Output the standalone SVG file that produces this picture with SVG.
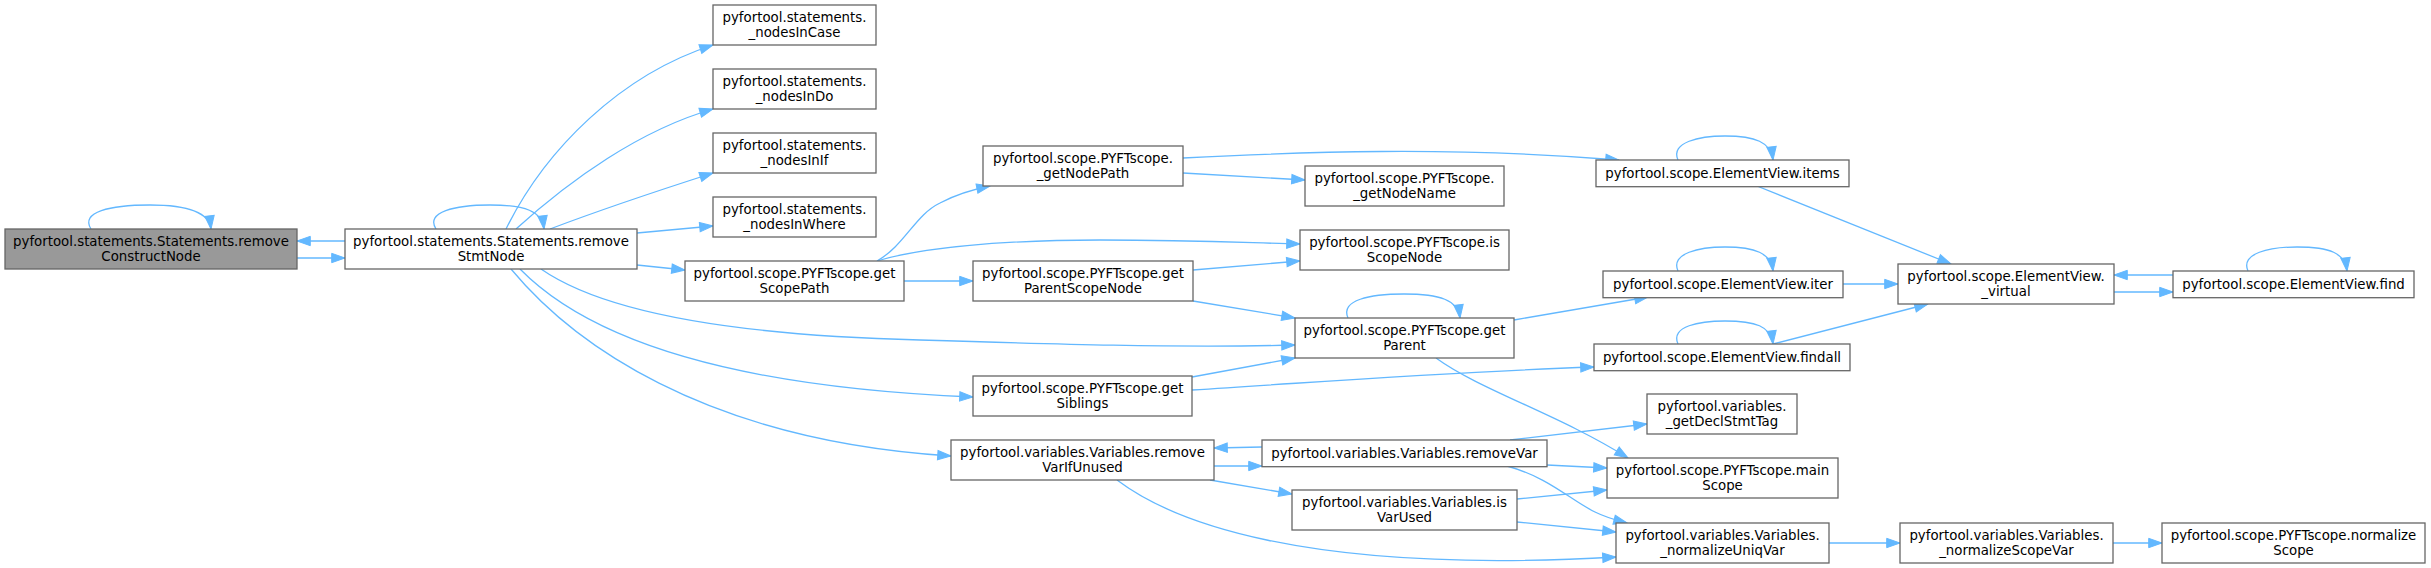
<svg xmlns="http://www.w3.org/2000/svg" width="2431" height="568" viewBox="0 0 2431 568">
<style>
.node rect{fill:#ffffff;stroke:#666666;stroke-width:1.3}
.node.root rect{fill:#999999}
.node text{font-family:"DejaVu Sans",sans-serif;font-size:13.33px;fill:#000000;text-anchor:middle}
.edges path{fill:none;stroke:#63b8ff;stroke-width:1.3;marker-end:url(#arr)}
</style>
<defs>
<marker id="arr" markerUnits="userSpaceOnUse" markerWidth="14" markerHeight="10" refX="13.3" refY="4.67" orient="auto" overflow="visible">
<path d="M0,0 L13.3,4.67 L0,9.33 Z" fill="#63b8ff" stroke="#63b8ff" stroke-width="1"/>
</marker>
</defs>
<rect width="2431" height="568" fill="#ffffff"/>
<g class="edges" id="edges">
<path d="M91,229 C80,212 110,205 150,205 C185,205 209,211 211,229"/>
<path d="M345,241 L297,241"/>
<path d="M297,258 L345,258"/>
<path d="M436,229 C425,212 455,205 490,205 C525,205 542,211 544,229"/>
<path d="M506,229 C545,150 620,75 713,45"/>
<path d="M516,229 C570,180 640,130 713,109"/>
<path d="M550,229 C600,210 660,190 713,173"/>
<path d="M637,233 L713,226"/>
<path d="M637,265 L685,270"/>
<path d="M541,269 C600,310 720,335 920,340 C1050,344 1180,348 1295,345"/>
<path d="M520,269 C570,320 680,385 973,397"/>
<path d="M511,269 C570,340 700,440 951,456"/>
<path d="M877,261 C905,245 915,215 940,203 C955,195 970,190 990,186"/>
<path d="M877,261 C920,248 1000,240 1100,240 C1200,240 1250,243 1300,244"/>
<path d="M904,281 L973,281"/>
<path d="M1193,270 L1300,261"/>
<path d="M1193,301 L1295,318"/>
<path d="M1183,173 L1305,180"/>
<path d="M1183,158 C1300,152 1450,146 1619,160"/>
<path d="M1348,318 C1340,300 1370,294 1404,294 C1440,294 1458,300 1460,318"/>
<path d="M1514,320 L1648,297"/>
<path d="M1436,358 C1480,390 1560,415 1628,458"/>
<path d="M1192,377 L1295,358"/>
<path d="M1192,390 C1350,380 1450,372 1594,367"/>
<path d="M1678,160 C1670,142 1700,136 1725,136 C1755,136 1771,142 1773,160"/>
<path d="M1757,186 L1951,264"/>
<path d="M1678,271 C1670,253 1700,247 1725,247 C1755,247 1771,253 1773,271"/>
<path d="M1843,284 L1898,284"/>
<path d="M1678,344 C1670,326 1700,321 1725,321 C1755,321 1771,326 1773,344"/>
<path d="M1773,344 L1928,304"/>
<path d="M2173,275 L2114,275"/>
<path d="M2114,292 L2173,292"/>
<path d="M2248,271 C2240,253 2270,247 2297,247 C2330,247 2345,253 2347,271"/>
<path d="M1214,466 L1262,466"/>
<path d="M1262,447 L1214,448"/>
<path d="M1210,480 L1292,494"/>
<path d="M1117,480 C1170,520 1300,575 1616,557"/>
<path d="M1510,440 L1647,424"/>
<path d="M1547,465 L1607,468"/>
<path d="M1507,466 C1550,478 1570,500 1595,512 C1605,517 1615,520 1627,523"/>
<path d="M1517,499 L1607,490"/>
<path d="M1517,522 L1616,532"/>
<path d="M1829,543 L1900,543"/>
<path d="M2113,543 L2162,543"/>
</g>
<g class="node root" id="n_removeConstructNode"><rect x="5" y="229" width="292" height="40"/><text x="151" y="246.3">pyfortool.statements.Statements.remove</text><text x="151" y="261">ConstructNode</text></g>
<g class="node" id="n_removeStmtNode"><rect x="345" y="229" width="292" height="40"/><text x="491" y="246.3">pyfortool.statements.Statements.remove</text><text x="491" y="261">StmtNode</text></g>
<g class="node" id="n_nodesInCase"><rect x="713" y="5" width="163" height="40"/><text x="794.5" y="22.3">pyfortool.statements.</text><text x="794.5" y="37">_nodesInCase</text></g>
<g class="node" id="n_nodesInDo"><rect x="713" y="69" width="163" height="40"/><text x="794.5" y="86.3">pyfortool.statements.</text><text x="794.5" y="101">_nodesInDo</text></g>
<g class="node" id="n_nodesInIf"><rect x="713" y="133" width="163" height="40"/><text x="794.5" y="150.3">pyfortool.statements.</text><text x="794.5" y="165">_nodesInIf</text></g>
<g class="node" id="n_nodesInWhere"><rect x="713" y="197" width="163" height="40"/><text x="794.5" y="214.3">pyfortool.statements.</text><text x="794.5" y="229">_nodesInWhere</text></g>
<g class="node" id="n_getScopePath"><rect x="685" y="261" width="219" height="40"/><text x="794.5" y="278.3">pyfortool.scope.PYFTscope.get</text><text x="794.5" y="293">ScopePath</text></g>
<g class="node" id="n_getNodePath"><rect x="983" y="146" width="200" height="40"/><text x="1083" y="163.3">pyfortool.scope.PYFTscope.</text><text x="1083" y="178">_getNodePath</text></g>
<g class="node" id="n_getParentScopeNode"><rect x="973" y="261" width="220" height="40"/><text x="1083" y="278.3">pyfortool.scope.PYFTscope.get</text><text x="1083" y="293">ParentScopeNode</text></g>
<g class="node" id="n_getNodeName"><rect x="1305" y="166" width="199" height="40"/><text x="1404.5" y="183.3">pyfortool.scope.PYFTscope.</text><text x="1404.5" y="198">_getNodeName</text></g>
<g class="node" id="n_isScopeNode"><rect x="1300" y="230" width="209" height="40"/><text x="1404.5" y="247.3">pyfortool.scope.PYFTscope.is</text><text x="1404.5" y="262">ScopeNode</text></g>
<g class="node" id="n_getParent"><rect x="1295" y="318" width="219" height="40"/><text x="1404.5" y="335.3">pyfortool.scope.PYFTscope.get</text><text x="1404.5" y="350">Parent</text></g>
<g class="node" id="n_getSiblings"><rect x="973" y="376" width="219" height="40"/><text x="1082.5" y="393.3">pyfortool.scope.PYFTscope.get</text><text x="1082.5" y="408">Siblings</text></g>
<g class="node" id="n_removeVarIfUnused"><rect x="951" y="440" width="263" height="40"/><text x="1082.5" y="457.3">pyfortool.variables.Variables.remove</text><text x="1082.5" y="472">VarIfUnused</text></g>
<g class="node" id="n_removeVar"><rect x="1262" y="440" width="285" height="26.7"/><text x="1404.5" y="458">pyfortool.variables.Variables.removeVar</text></g>
<g class="node" id="n_isVarUsed"><rect x="1292" y="490" width="225" height="40"/><text x="1404.5" y="507.3">pyfortool.variables.Variables.is</text><text x="1404.5" y="522">VarUsed</text></g>
<g class="node" id="n_items"><rect x="1596" y="160" width="253" height="26.7"/><text x="1722.5" y="178">pyfortool.scope.ElementView.items</text></g>
<g class="node" id="n_iter"><rect x="1603" y="271" width="240" height="26.7"/><text x="1723" y="289">pyfortool.scope.ElementView.iter</text></g>
<g class="node" id="n_findall"><rect x="1594" y="344" width="256" height="26.7"/><text x="1722" y="362">pyfortool.scope.ElementView.findall</text></g>
<g class="node" id="n_getDeclStmtTag"><rect x="1647" y="394" width="150" height="40"/><text x="1722" y="411.3">pyfortool.variables.</text><text x="1722" y="426">_getDeclStmtTag</text></g>
<g class="node" id="n_mainScope"><rect x="1607" y="458" width="231" height="40"/><text x="1722.5" y="475.3">pyfortool.scope.PYFTscope.main</text><text x="1722.5" y="490">Scope</text></g>
<g class="node" id="n_normalizeUniqVar"><rect x="1616" y="523" width="213" height="40"/><text x="1722.5" y="540.3">pyfortool.variables.Variables.</text><text x="1722.5" y="555">_normalizeUniqVar</text></g>
<g class="node" id="n_virtual"><rect x="1898" y="264" width="216" height="40"/><text x="2006" y="281.3">pyfortool.scope.ElementView.</text><text x="2006" y="296">_virtual</text></g>
<g class="node" id="n_find"><rect x="2173" y="271" width="241" height="26.7"/><text x="2293.5" y="289">pyfortool.scope.ElementView.find</text></g>
<g class="node" id="n_normalizeScopeVar"><rect x="1900" y="523" width="213" height="40"/><text x="2006.5" y="540.3">pyfortool.variables.Variables.</text><text x="2006.5" y="555">_normalizeScopeVar</text></g>
<g class="node" id="n_normalizeScope"><rect x="2162" y="523" width="263" height="40"/><text x="2293.5" y="540.3">pyfortool.scope.PYFTscope.normalize</text><text x="2293.5" y="555">Scope</text></g>
</svg>
